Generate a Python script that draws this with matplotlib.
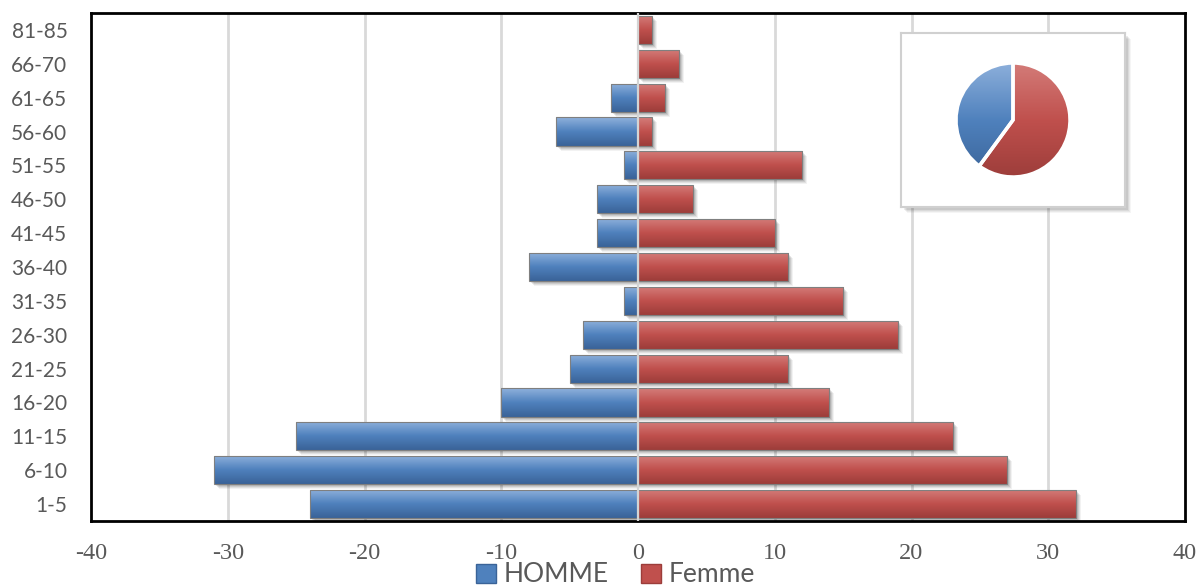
import numpy as np
import matplotlib
matplotlib.use("Agg")
import matplotlib.pyplot as plt
from matplotlib.patches import Rectangle, Patch
from matplotlib.colors import LinearSegmentedColormap
from matplotlib import transforms

# Age groups (bottom to top) and head counts per sex
age_groups = ["1-5", "6-10", "11-15", "16-20", "21-25", "26-30", "31-35",
              "36-40", "41-45", "46-50", "51-55", "56-60", "61-65", "66-70", "81-85"]
homme = [-24, -31, -25, -10, -5, -4, -1, -8, -3, -3, -1, -6, -2, 0, 0]
femme = [32, 27, 23, 14, 11, 19, 15, 11, 10, 4, 12, 1, 2, 3, 1]
x_ticks = [-40, -30, -20, -10, 0, 10, 20, 30, 40]
series_names = ["HOMME", "Femme"]

blue_cmap = LinearSegmentedColormap.from_list(
    "blue_grad", ["#3a6398", "#4f81bd", "#8fb1dc"])
red_cmap = LinearSegmentedColormap.from_list(
    "red_grad", ["#9c3d3a", "#c0504d", "#d47d7a"])
grad = np.linspace(0, 1, 64).reshape(-1, 1)

W, H = 1200, 587
fig = plt.figure(figsize=(12, 5.87), dpi=100)
ax = fig.add_axes([91 / W, 1 - 521 / H, (1185 - 91) / W, (521 - 13) / H])

bar_h = 0.83
y = np.arange(len(age_groups))


def gradient_bar(ax, x0, width, yc, cmap):
    if width == 0:
        return
    left = min(x0, x0 + width)
    w = abs(width)
    # soft drop shadow
    for k, a in [(5, 0.05), (4, 0.07), (3, 0.09), (2, 0.10)]:
        tr = ax.transData + transforms.ScaledTranslation(k / 100, -k / 100, fig.dpi_scale_trans)
        ax.add_patch(Rectangle((left, yc - bar_h / 2), w, bar_h, facecolor="black",
                               alpha=a, edgecolor="none", transform=tr, zorder=2))
    rect = Rectangle((left, yc - bar_h / 2), w, bar_h, facecolor="none",
                     edgecolor="#7f7f7f", linewidth=0.8, zorder=4)
    ax.add_patch(rect)
    im = ax.imshow(grad, cmap=cmap, origin="lower", aspect="auto",
                   extent=(left, left + w, yc - bar_h / 2, yc + bar_h / 2),
                   interpolation="bicubic", zorder=3)
    im.set_clip_path(rect)


for yi, hv, fv in zip(y, homme, femme):
    gradient_bar(ax, 0, hv, yi, blue_cmap)
    gradient_bar(ax, 0, fv, yi, red_cmap)

ax.set_xlim(-40, 40)
ax.set_ylim(-0.5, len(age_groups) - 0.5)
ax.set_xticks(x_ticks)
ax.set_xticklabels([str(t) for t in x_ticks], family="Liberation Serif",
                   fontsize=17.5, color="#595959")
ax.set_yticks(y)
ax.set_yticklabels(age_groups, family="Lato", fontsize=15, color="#595959")
ax.tick_params(axis="both", length=0)
ax.tick_params(axis="x", pad=16)
ax.tick_params(axis="y", pad=17)
for t in x_ticks:
    if t not in (-40, 40, 0):
        ax.axvline(t, color="#d9d9d9", linewidth=2, zorder=1)
ax.axvline(0, color="#d4d4d4", linewidth=1.6, zorder=5)
for sp in ax.spines.values():
    sp.set_color("black")
    sp.set_linewidth(2)

# Inset box with pie of totals
bx0, by0, bx1, by1 = 901, 33, 1125, 207
for k, a in [(6, 0.04), (5, 0.05), (4, 0.06), (3, 0.08)]:
    fig.patches.append(Rectangle(((bx0 + k) / W, 1 - (by1 + k) / H),
                                 (bx1 - bx0) / W, (by1 - by0) / H,
                                 transform=fig.transFigure, facecolor="black",
                                 alpha=a, edgecolor="none", zorder=5))
box = fig.add_axes([bx0 / W, 1 - by1 / H, (bx1 - bx0) / W, (by1 - by0) / H], zorder=6)
box.set_xticks([])
box.set_yticks([])
for sp in box.spines.values():
    sp.set_color("#d0d0d0")
    sp.set_linewidth(1.5)

cx, cy, r = 1013, 120, 57
pax = fig.add_axes([(cx - 60) / W, 1 - (cy + 60) / H, 120 / W, 120 / H], zorder=7)
pax.patch.set_alpha(0)
totals = [sum(abs(v) for v in homme), sum(femme)]
wedges, _ = pax.pie(totals, startangle=90, counterclock=True, radius=r / 60,
                    wedgeprops=dict(edgecolor="white", linewidth=2.5))
for wdg, cm in zip(wedges, [blue_cmap, red_cmap]):
    wdg.set_facecolor("none")
    im = pax.imshow(grad, cmap=cm, origin="lower", aspect="auto",
                    extent=(-1, 1, -1, 1), interpolation="bicubic", zorder=0)
    im.set_clip_path(wdg)
    wdg.set_zorder(2)
pax.set_xlim(-1, 1)
pax.set_ylim(-1, 1)
pax.set_aspect("equal")
pax.axis("off")

handles = [Patch(facecolor="#4f81bd", edgecolor="#3a6398"),
           Patch(facecolor="#c0504d", edgecolor="#9c3d3a")]
leg = fig.legend(handles, series_names, loc="center", bbox_to_anchor=(0.513, 1 - 575 / H),
                 ncol=2, frameon=False, fontsize=19, handlelength=0.75, handleheight=0.75,
                 handletextpad=0.3, columnspacing=1.2, borderpad=0)
for t in leg.get_texts():
    t.set_color("#595959")
    t.set_family("Lato")

fig.savefig("out.png", dpi=100)
